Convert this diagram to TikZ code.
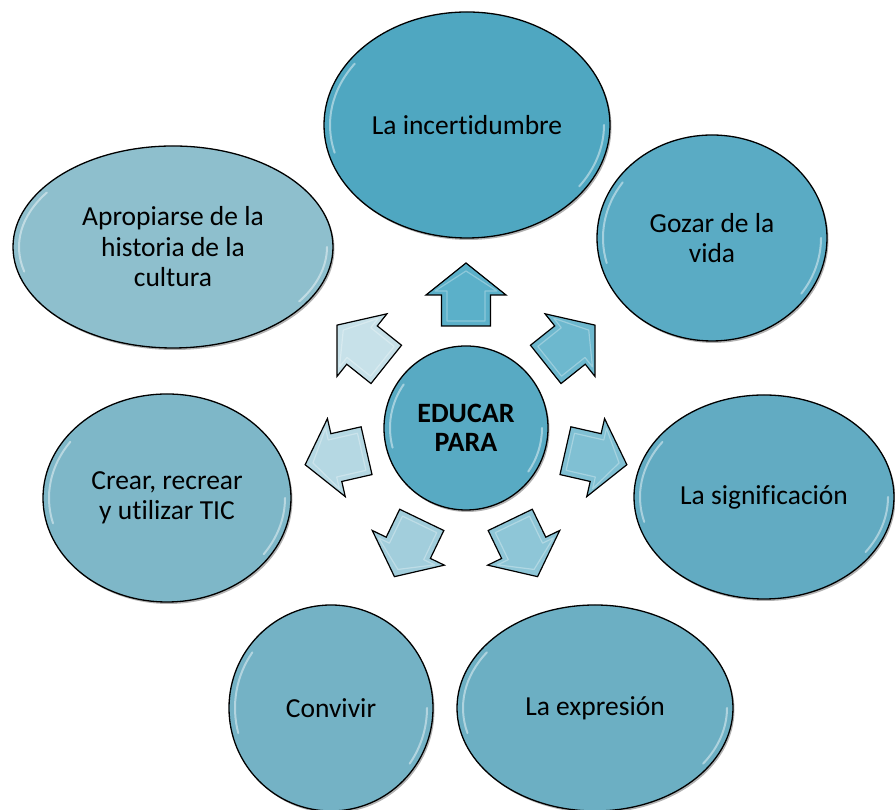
\documentclass[tikz,border=0pt]{standalone}
\usepackage{fontspec}
\setmainfont{Carlito}[Ligatures=NoCommon]
\usetikzlibrary{shapes.geometric,shadows}
\definecolor{cA}{HTML}{4FA7C1}
\definecolor{cB}{HTML}{5AABC4}
\definecolor{cC}{HTML}{62ABC2}
\definecolor{cD}{HTML}{6CAFC3}
\definecolor{cE}{HTML}{74B2C5}
\definecolor{cF}{HTML}{7EB7C8}
\definecolor{cG}{HTML}{8EBFCD}
\definecolor{cCtr}{HTML}{58AAC3}
\definecolor{aA}{HTML}{5BB0C9}
\definecolor{aB}{HTML}{6DB8CE}
\definecolor{aC}{HTML}{80C0D3}
\definecolor{aD}{HTML}{8EC6D7}
\definecolor{aE}{HTML}{A2CEDC}
\definecolor{aF}{HTML}{B5D8E3}
\definecolor{aG}{HTML}{C7E1E9}
\tikzset{
  bubble/.style={ellipse, draw=black, line width=1.3pt, inner sep=0pt, align=center,
    font=\fontsize{27.5}{30.5}\selectfont,
    drop shadow={shadow xshift=1.5pt, shadow yshift=-2pt, opacity=0.3, fill=black}},
  hl/.style={draw=white, line width=2pt, opacity=0.45, line cap=round},
  blockarrow/.style={draw=black, line width=1.2pt, line join=miter},
  arrhl/.style={draw=white, line width=1.2pt, opacity=0.3, line join=round},
}
\newcommand\mybubble[7]{%
  \node[bubble, fill=#6, minimum width={2*#4pt}, minimum height={2*#5pt}] (#1) at (#2,#3) {#7};
  \draw[hl] ({#2+(#4-6)*cos(145)},{#3+(#5-6)*sin(145)})
     arc[start angle=145, end angle=195, x radius={#4-6}, y radius={#5-6}];
  \draw[hl] ({#2+(#4-6)*cos(-35)},{#3+(#5-6)*sin(-35)})
     arc[start angle=-35, end angle=0, x radius={#4-6}, y radius={#5-6}];
}
\newcommand\myarrow[2]{%
  \begin{scope}[shift={(466,382)}, rotate=#1]
    \draw[blockarrow, fill=#2] (102,-24.5) -- (133,-24.5) -- (133,-40) -- (165,0)
      -- (133,40) -- (133,24.5) -- (102,24.5) -- cycle;
    \draw[arrhl] (107,-19) -- (137,-19) -- (137,-31) -- (157,0) -- (137,31) -- (137,19) -- (107,19) -- cycle;
  \end{scope}
}
\begin{document}
\begin{tikzpicture}[x=1pt,y=1pt]
  \useasboundingbox (0,0) rectangle (895,810);
  \mybubble{incert}{467}{685}{143}{113}{cA}{La incertidumbre}
  \mybubble{gozar}{712}{572}{115}{103}{cB}{Gozar de la\\vida}
  \mybubble{signif}{764}{313}{130}{102}{cC}{La significación}
  \mybubble{expres}{595}{102}{138}{103}{cD}{La expresión}
  \mybubble{conv}{331}{102}{102}{103}{cE}{Convivir}
  \mybubble{crear}{167}{312}{124}{104}{cF}{Crear, recrear\\y utilizar TIC}
  \mybubble{aprop}{173}{563}{160}{101}{cG}{Apropiarse de la\\historia de la\\cultura}
  \myarrow{90}{aA}
  \myarrow{38.57}{aB}
  \myarrow{-12.86}{aC}
  \myarrow{-64.29}{aD}
  \myarrow{-115.71}{aE}
  \myarrow{-167.14}{aF}
  \myarrow{141.43}{aG}
  \node[bubble, circle, fill=cCtr, minimum size=164pt, font=\bfseries\fontsize{28}{29.5}\selectfont] (ctr) at (466,382) {EDUCAR\\PARA};
  \draw[hl] ({466+76*cos(145)},{382+76*sin(145)}) arc[start angle=145, end angle=195, radius=76];
  \draw[hl] ({466+76*cos(-35)},{382+76*sin(-35)}) arc[start angle=-35, end angle=0, radius=76];
\end{tikzpicture}
\end{document}
